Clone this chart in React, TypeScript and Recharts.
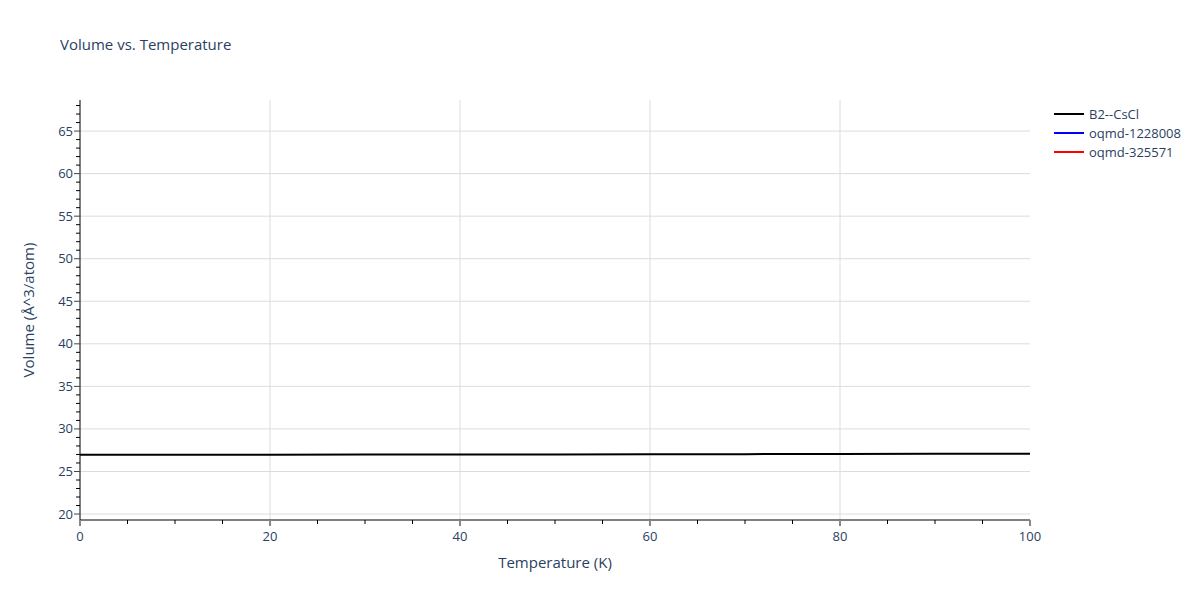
import React from "react";
import { LineChart, Line, XAxis, YAxis, ReferenceLine, Legend } from "recharts";

const temperatures = [0, 10, 20, 30, 40, 50, 60, 70, 80, 90, 100];
const b2CsCl = [26.97, 26.97, 26.98, 26.99, 27.0, 27.01, 27.03, 27.04, 27.06, 27.07, 27.09];
const oqmd1228008: (number | null)[] = [];
const oqmd325571: (number | null)[] = [];

const xMajor = [0, 20, 40, 60, 80, 100];
const xMinor = [0, 5, 10, 15, 20, 25, 30, 35, 40, 45, 50, 55, 60, 65, 70, 75, 80, 85, 90, 95, 100];
const yMajor = [20, 25, 30, 35, 40, 45, 50, 55, 60, 65];
const yMinor = [20, 21, 22, 23, 24, 25, 26, 27, 28, 29, 30, 31, 32, 33, 34, 35, 36, 37, 38, 39, 40, 41, 42, 43, 44, 45, 46, 47, 48, 49, 50, 51, 52, 53, 54, 55, 56, 57, 58, 59, 60, 61, 62, 63, 64, 65, 66, 67, 68];

const FONT = "'Open Sans', verdana, arial, sans-serif";
const TEXT = "#2a3f5f";
const GRID = "#dcdcdc";

const data = temperatures.map((t, i) => ({
  t,
  b2: b2CsCl[i],
  q1: oqmd1228008[i] ?? null,
  q2: oqmd325571[i] ?? null,
}));

const YTick = (props: any) => {
  const { x, y, payload } = props;
  const major = payload.value % 5 === 0;
  return (
    <g>
      <line x1={x} x2={x - (major ? 6 : 4)} y1={y} y2={y} stroke={major ? "#444" : "#000"} strokeWidth={1} />
      {major && (
        <text x={x - 7} y={y} dy={4.5} textAnchor="end" fontSize={13} fill={TEXT} fontFamily={FONT}>
          {payload.value}
        </text>
      )}
    </g>
  );
};

const XTick = (props: any) => {
  const { x, y, payload } = props;
  const major = payload.value % 20 === 0;
  return (
    <g>
      <line x1={x} x2={x} y1={y} y2={y + (major ? 6 : 4)} stroke={major ? "#888" : "#000"} strokeWidth={major ? 2 : 1} />
      {major && (
        <text x={x} y={y + 21} textAnchor="middle" fontSize={13} fill={TEXT} fontFamily={FONT}>
          {payload.value}
        </text>
      )}
    </g>
  );
};

const LegendBox = (props: any) => {
  const items = props.payload || [];
  return (
    <div style={{ fontFamily: FONT, fontSize: 13, color: TEXT }}>
      {items.map((it: any) => (
        <div key={it.value} style={{ display: "flex", alignItems: "center", height: 19 }}>
          <svg width={35} height={10}>
            <line x1={0} x2={30} y1={5} y2={5} stroke={it.color} strokeWidth={2} />
          </svg>
          <span>{it.value}</span>
        </div>
      ))}
    </div>
  );
};

export default function App() {
  return (
    <div style={{ position: "absolute", left: 0, top: 0, width: 1200, height: 600, background: "#fff" }}>
      <div style={{ position: "absolute", left: 60, top: 34, fontFamily: FONT, fontSize: 15, color: TEXT }}>
        Volume vs. Temperature
      </div>
      <LineChart width={1200} height={600} data={data} margin={{ top: 100, right: 170, bottom: 40, left: 0 }}>
        {yMajor.map((v) => (
          <ReferenceLine key={"h" + v} y={v} stroke={GRID} strokeWidth={1} />
        ))}
        {xMajor.filter((v) => v > 0 && v < 100).map((v) => (
          <ReferenceLine key={"v" + v} x={v} stroke={GRID} strokeWidth={1} />
        ))}
        <XAxis
          dataKey="t"
          type="number"
          domain={[0, 100]}
          ticks={xMinor}
          interval={0}
          height={40}
          tickSize={0}
          tickMargin={0}
          tickLine={false}
          axisLine={{ stroke: "#000", strokeWidth: 1 }}
          tick={<XTick />}
          label={{ value: "Temperature (K)", position: "insideBottom", offset: -8, fill: TEXT, fontSize: 15, fontFamily: FONT }}
        />
        <YAxis
          type="number"
          domain={[19.3, 68.65]}
          ticks={yMinor}
          interval={0}
          width={80}
          tickSize={0}
          tickMargin={0}
          tickLine={false}
          allowDataOverflow
          axisLine={{ stroke: "#000", strokeWidth: 1 }}
          tick={<YTick />}
          label={{ value: "Volume (Å^3/atom)", angle: -90, position: "insideLeft", offset: 29, fill: TEXT, fontSize: 15, fontFamily: FONT, style: { textAnchor: "middle" } }}
        />
        <Legend
          layout="horizontal"
          verticalAlign="middle"
          align="center"
          content={<LegendBox />}
          wrapperStyle={{ position: "absolute", left: 1054, top: 104, width: 146 }}
        />
        <Line dataKey="b2" name="B2--CsCl" stroke="#000" strokeWidth={2} dot={false} isAnimationActive={false} />
        <Line dataKey="q1" name="oqmd-1228008" stroke="#0000ff" strokeWidth={2} dot={false} isAnimationActive={false} />
        <Line dataKey="q2" name="oqmd-325571" stroke="#ff0000" strokeWidth={2} dot={false} isAnimationActive={false} />
      </LineChart>
    </div>
  );
}
